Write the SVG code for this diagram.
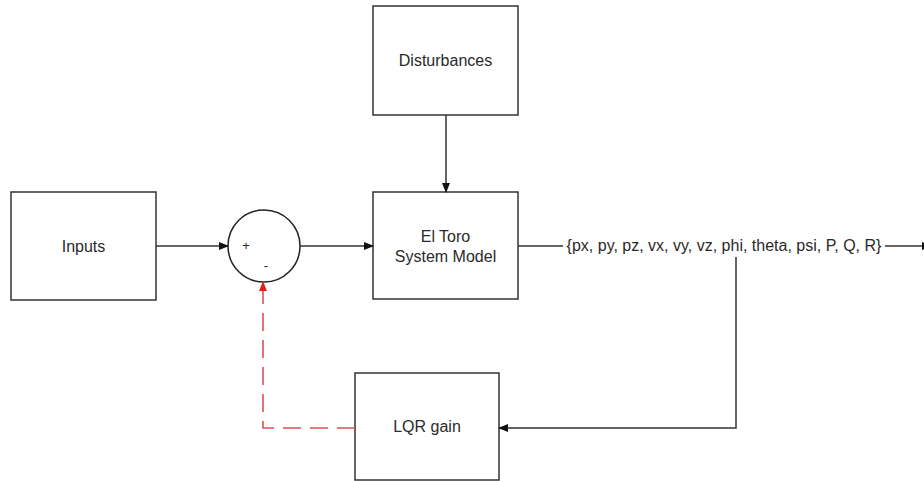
<svg xmlns="http://www.w3.org/2000/svg" width="924" height="481" viewBox="0 0 924 481">
<style>
.box{fill:#fff;stroke:#333;stroke-width:1.5}
.t{font-family:"Liberation Sans",Arial,sans-serif;font-size:16px;fill:#2a2a2a;text-anchor:middle}
.s{font-family:"Liberation Sans",Arial,sans-serif;font-size:13px;fill:#2a2a2a;text-anchor:middle}
.ln{fill:none;stroke:#333;stroke-width:1.5}
.dash{fill:none;stroke:#e05050;stroke-width:1.6;stroke-dasharray:18 9}
</style>
<defs>
<marker id="ah" markerWidth="10" markerHeight="8" refX="9" refY="4" orient="auto" markerUnits="userSpaceOnUse">
<path d="M0,0 L10,4 L0,8 Z" fill="#111"/>
</marker>
<marker id="ahr" markerWidth="10" markerHeight="8" refX="9" refY="4" orient="auto" markerUnits="userSpaceOnUse">
<path d="M0,0 L10,4 L0,8 Z" fill="#e02020"/>
</marker>
</defs>
<rect width="924" height="481" fill="#fff"/>
<g id="inputs">
<rect class="box" x="11" y="192" width="145" height="108"/>
<text class="t" x="83.5" y="251.5">Inputs</text>
</g>
<g id="sum">
<circle cx="264" cy="246" r="36" fill="#fff" stroke="#222" stroke-width="1.5"/>
<text class="s" x="246" y="250">+</text>
<text class="s" x="266" y="270">-</text>
</g>
<g id="disturbances">
<rect class="box" x="373" y="6" width="145" height="109"/>
<text class="t" x="445.5" y="66">Disturbances</text>
</g>
<g id="model">
<rect class="box" x="373" y="192" width="145" height="107"/>
<text class="t" x="445.5" y="242">El Toro</text>
<text class="t" x="445.5" y="262">System Model</text>
</g>
<g id="lqr">
<rect class="box" x="355" y="373" width="144" height="107"/>
<text class="t" x="427" y="432">LQR gain</text>
</g>
<g id="state">
<text class="t" x="724" y="251">{px, py, pz, vx, vy, vz, phi, theta, psi, P, Q, R}</text>
</g>
<g id="connectors">
<path class="ln" d="M156,246 H228" marker-end="url(#ah)"/>
<path class="ln" d="M300,246 H373" marker-end="url(#ah)"/>
<path class="ln" d="M446,115 V192" marker-end="url(#ah)"/>
<path class="ln" d="M518,246 H563"/>
<path class="ln" d="M885,246 H931" marker-end="url(#ah)"/>
<path class="ln" d="M736,257 V428 H499" marker-end="url(#ah)"/>
<path class="dash" d="M355,428 H263 V282" marker-end="url(#ahr)"/>
</g>
</svg>
